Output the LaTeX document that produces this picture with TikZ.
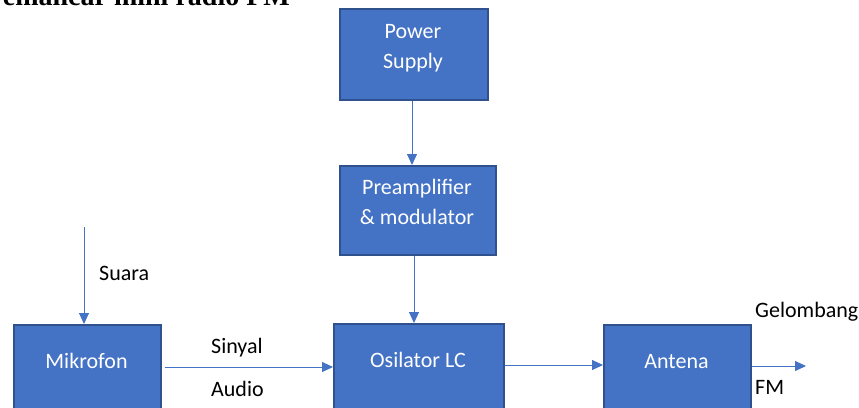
\documentclass[tikz,border=0pt]{standalone}
\usepackage{fontspec}
\setmainfont{Carlito}
\newfontfamily\titlefont{Liberation Serif}
\usetikzlibrary{arrows.meta}
\definecolor{boxfill}{HTML}{4472C4}
\definecolor{boxedge}{HTML}{2F528F}
\definecolor{linecol}{HTML}{4472C4}
\tikzset{
  blockbox/.style={draw=boxedge, fill=boxfill, line width=1.5pt, rectangle, anchor=north west, inner sep=0pt},
  boxtext/.style={text=white, font=\fontsize{22}{30}\selectfont, align=center, inner sep=0pt},
  plaintext/.style={text=black, font=\fontsize{22}{30}\selectfont, inner sep=0pt},
  arr/.style={draw=linecol, line width=1pt, -{Triangle[length=11pt,width=10pt]}}
}
\begin{document}
\begin{tikzpicture}[x=1pt,y=-1pt]
\useasboundingbox (0,0) rectangle (859,407);
% title (cut off at top, as in the reference)
\node[anchor=base east, inner sep=0pt, font=\titlefont\bfseries\fontsize{28}{32}\selectfont] (title) at (290,5) {Pemancar mini radio FM};
% boxes
\node[blockbox, minimum width=148pt, minimum height=91pt] (pwr) at (339,8) {};
\node[blockbox, minimum width=156pt, minimum height=89pt] (pre) at (339,165) {};
\node[blockbox, minimum width=170pt, minimum height=100pt] (osc) at (333,323) {};
\node[blockbox, minimum width=147pt, minimum height=100pt] (mic) at (13,324) {};
\node[blockbox, minimum width=147pt, minimum height=100pt] (ant) at (603,324) {};
% box texts
\node[boxtext] (pwrT) at (413,48) {Power\\Supply};
\node[boxtext] (preT) at (417,202) {Preamplifier\\\& modulator};
\node[boxtext] (oscT) at (418,360) {Osilator LC};
\node[boxtext] (micT) at (86.5,361) {Mikrofon};
\node[boxtext] (antT) at (676.5,362) {Antena};
% labels
\node[plaintext, anchor=west] (suara) at (99,273) {Suara};
\node[plaintext, anchor=west] (sinyal) at (211,348) {Sinyal};
\node[plaintext, anchor=west] (audio) at (211,389) {Audio};
\node[plaintext, anchor=west] (gelo) at (755,312) {Gelombang};
\node[plaintext, anchor=west] (fm) at (755,387) {FM};
% connectors
\coordinate (suaraTop) at (84,227);
\coordinate (outEnd) at (806,366);
\draw[arr] (suaraTop) -- (suaraTop |- mic.north);
\draw[arr] (pwr.south -| 412,0) -- (pre.north -| 412,0);
\draw[arr] (pre.south -| 414,0) -- (osc.north -| 414,0);
\draw[arr] ([xshift=3pt]mic.east |- 0,367) -- (osc.west |- 0,367);
\draw[arr] (osc.east |- 0,365) -- (ant.west |- 0,365);
\draw[arr] (ant.east |- 0,366) -- (outEnd);
\end{tikzpicture}
\end{document}
